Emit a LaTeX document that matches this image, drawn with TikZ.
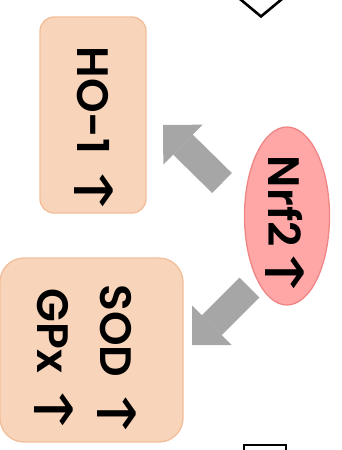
\documentclass[tikz,border=0pt]{standalone}
\usepackage{fontspec}
\setmainfont{Poppins}[BoldFont={Poppins SemiBold}]
\newfontfamily\symf{DejaVu Sans}
\usetikzlibrary{arrows.meta,shapes.geometric}
\definecolor{peach}{HTML}{F8D5BA}
\definecolor{peachline}{HTML}{F2BE9A}
\definecolor{rosefill}{HTML}{FFA7A7}
\definecolor{roseline}{HTML}{F08585}
\definecolor{arrgray}{HTML}{A6A6A6}
\newcommand{\upar}{\kern-5pt\raisebox{-3pt}{\scalebox{1.7}[1.2]{\mdseries\symf ↑}}\kern-6pt}
\begin{document}
\begin{tikzpicture}[x=1pt,y=-1pt,
  box/.style={draw=peachline, fill=peach, line width=1.3pt, inner sep=0pt},
  lab/.style={rotate=-90, anchor=base, inner sep=0pt, font=\fontsize{44}{50}\selectfont\bfseries},
  blockarrow/.style={draw=arrgray, line width=28pt, -{Triangle[width=56pt,length=28pt,line width=0pt]}},
  frame/.style={draw=black, line width=2.6pt, inner sep=0pt}]
\useasboundingbox (0,0) rectangle (342,450);
\clip (0,0) rectangle (342,450);
\node[frame, diamond, minimum width=60pt, minimum height=50pt] (top) at (261,-8) {};
\node[frame, rectangle, minimum width=42pt, minimum height=30pt] (bot) at (265,460) {};
\node[box, rounded corners=14pt, minimum width=106pt, minimum height=196pt] (ho) at (93,115) {};
\node[box, rounded corners=24pt, minimum width=183pt, minimum height=184pt] (sod) at (91.5,350) {};
\node[ellipse, draw=roseline, fill=rosefill, line width=1.3pt, minimum width=85pt, minimum height=178pt, inner sep=0pt] (nrf) at (287,216) {};
\coordinate (t1) at (222,183);
\coordinate (h1) at (163,125);
\coordinate (t2) at (249.5,287.5);
\coordinate (h2) at (192,345);
\draw[blockarrow] (t1) -- (h1);
\draw[blockarrow] (t2) -- (h2);
\node[lab] (hot) at (77,131.5) {HO-1 \upar};
\node[lab] (nrft) at (268,227) {Nrf2\upar};
\node[lab] (sodt) at (100,362) {SOD \upar};
\node[lab] (gpxt) at (37,362) {GPx \upar};
\end{tikzpicture}
\end{document}
